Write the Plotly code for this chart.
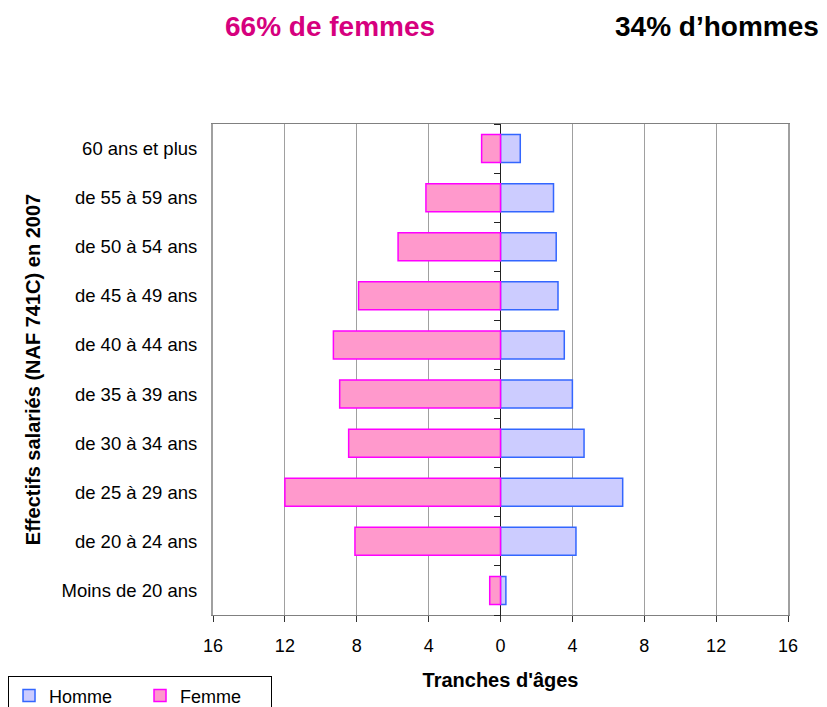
import plotly.graph_objects as go

# age bands, bottom to top
age_bands = ["Moins de 20 ans", "de 20 à 24 ans", "de 25 à 29 ans", "de 30 à 34 ans",
             "de 35 à 39 ans", "de 40 à 44 ans", "de 45 à 49 ans", "de 50 à 54 ans",
             "de 55 à 59 ans", "60 ans et plus"]
# share of staff (%) in each band
femme = [0.6, 8.1, 12.0, 8.45, 8.95, 9.3, 7.9, 5.7, 4.15, 1.05]
homme = [0.3, 4.2, 6.8, 4.65, 4.0, 3.55, 3.2, 3.1, 2.95, 1.1]

x_tickvals = [-16, -12, -8, -4, 0, 4, 8, 12, 16]
x_ticktext = ['16', '12', '8', '4', '0', '4', '8', '12', '16']

FONT = 'Liberation Sans, Arial, sans-serif'

fig = go.Figure()
fig.add_trace(go.Bar(y=age_bands, x=homme, name='Homme', orientation='h',
                     marker=dict(color='#CCCCFF', line=dict(color='#3366FF', width=1.5)),
                     xaxis='x', yaxis='y'))
# femmes go to the left; second y axis carries the boundary ticks on the zero line
fig.add_trace(go.Bar(y=age_bands, x=[-v for v in femme], name='Femme', orientation='h',
                     marker=dict(color='#FF99CC', line=dict(color='#FF00FF', width=1.5)),
                     xaxis='x', yaxis='y2'))

# the page body adds 8px of margin, so margins are shifted by 8px
fig.update_layout(
    width=827, height=707,
    margin=dict(l=205, r=47, t=116, b=100, autoexpand=False),
    paper_bgcolor='white', plot_bgcolor='white',
    font=dict(family=FONT, size=18, color='black'),
    barmode='relative', bargap=0.43,
    showlegend=True,
    legend=dict(orientation='h', x=-0.3565, y=-0.125, xanchor='left', yanchor='top',
                bordercolor='black', borderwidth=1, font=dict(size=18),
                entrywidth=86, traceorder='normal'),
    xaxis=dict(range=[-16, 16], tickvals=x_tickvals, ticktext=x_ticktext,
               showgrid=True, gridcolor='#a0a0a0', gridwidth=1,
               zeroline=True, zerolinecolor='#222222', zerolinewidth=1,
               showline=True, linecolor='#808080', linewidth=1, mirror=True,
               ticks='outside', ticklen=6, tickcolor='#333333',
               ticklabelstandoff=8, tickfont=dict(size=18),
               title=dict(text="<b>Tranches d'âges</b>", font=dict(size=20), standoff=18)),
    yaxis=dict(type='category', categoryorder='array', categoryarray=age_bands,
               range=[-0.5, 9.5], showline=True, linecolor='#a0a0a0', linewidth=2,
               mirror=True, ticks='', showgrid=False, ticklabelstandoff=10,
               tickfont=dict(size=18.5),
               title=dict(text='<b>Effectifs salariés (NAF 741C) en 2007</b>',
                          font=dict(size=20), standoff=16)),
    yaxis2=dict(type='category', categoryorder='array', categoryarray=age_bands,
                range=[-0.5, 9.5], overlaying='y', anchor='free', position=0.5,
                side='left', ticks='outside', tickson='boundaries', ticklen=7,
                tickcolor='#222222', showticklabels=False, showgrid=False,
                showline=False, zeroline=False),
    annotations=[
        dict(text='<b>66% de femmes</b>', xref='paper', yref='paper', x=0.0174, y=1.198,
             xanchor='left', yanchor='middle', showarrow=False,
             font=dict(size=28, color='#D6007E')),
        dict(text='<b>34% d’hommes</b>', xref='paper', yref='paper', x=1.058, y=1.198,
             xanchor='right', yanchor='middle', showarrow=False,
             font=dict(size=28, color='black')),
    ],
)

fig.write_html("out.html")
